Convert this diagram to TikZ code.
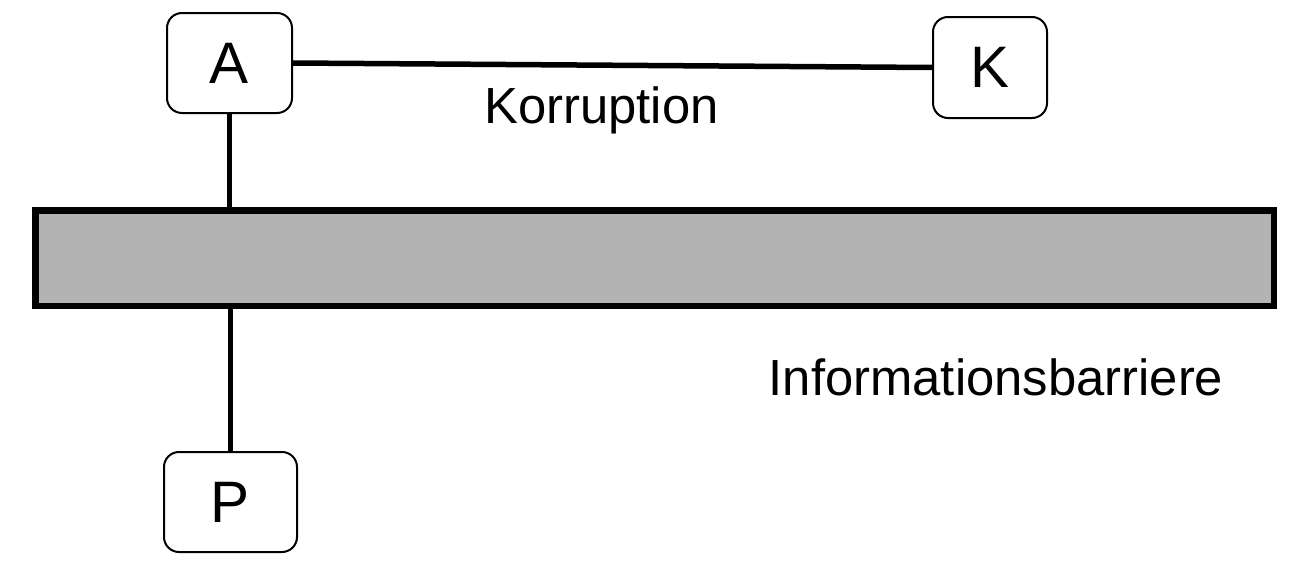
\documentclass[tikz,border=0pt]{standalone}
\usepackage{fontspec}
\setmainfont{Liberation Sans}
\definecolor{barriergray}{HTML}{B3B3B3}
\begin{document}
\begin{tikzpicture}[x=1pt,y=-1pt,
  party/.style={draw=black, line width=2pt, rounded corners=15pt, fill=white,
    inner sep=0pt, font=\fontsize{58.5}{60}\selectfont},
  barrierbox/.style={draw=black, line width=6.5pt, fill=barriergray, inner sep=0pt},
  link/.style={draw=black, line width=5.5pt},
  caption/.style={anchor=base, inner sep=0pt, font=\fontsize{50.8}{52}\selectfont}]
\useasboundingbox (0,0) rectangle (1304,570);
\node[barrierbox, minimum width=1238.5pt, minimum height=95.5pt] (barrier) at (654.5,258) {};
\node[party, minimum width=125pt, minimum height=100pt] (A) at (229.5,63) {A};
\node[party, minimum width=114pt, minimum height=101pt] (K) at (990,67.5) {K};
\node[party, minimum width=133pt, minimum height=100pt] (P) at (230.5,502) {P};
\draw[link] (A.east) -- (K.west);
\draw[link] (A.south) -- (A.south |- barrier.north);
\draw[link] (P.north |- barrier.south) -- (P.north);
\node[caption] (korr) at (601.5,123) {Korruption};
\node[caption] (info) at (996,395) {Informationsbarriere};
\end{tikzpicture}
\end{document}
